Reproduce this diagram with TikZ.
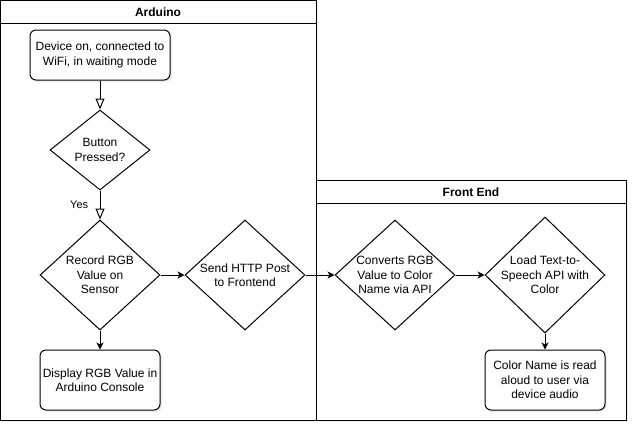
\documentclass[tikz,border=0pt]{standalone}
\usepackage{fontspec}
\setmainfont{Liberation Sans}
\usetikzlibrary{shapes.geometric,arrows.meta,shadows}

\begin{document}
\begin{tikzpicture}[x=1pt,y=-1pt,font=\fontsize{12}{14.5}\selectfont,
		lane/.style={draw,line width=1pt,fill=white,drop shadow={opacity=0.12,shadow xshift=2pt,shadow yshift=-2pt}},
		lanetitle/.style={font=\fontsize{12}{14.5}\selectfont\bfseries},
		stepbox/.style={draw,line width=1pt,fill=white,rounded corners=6pt,align=center,inner sep=0pt,
			drop shadow={opacity=0.12,shadow xshift=2pt,shadow yshift=-2pt}},
		decision/.style={draw,diamond,line width=1pt,fill=white,inner sep=0pt,minimum width=120pt,minimum height=110pt},
		every label/.append style={align=center},
		flow/.style={line width=1pt,-{Stealth[length=7pt,width=7pt,inset=2pt]}},
		openflow/.style={line width=1pt,-{Triangle[length=11pt,width=9pt,fill=white]}}]
			\useasboundingbox (0,0) rectangle (637,432);
			% swimlanes
			\draw [lane] (0.5,0.5) rectangle (316,420);
			\draw (0.5,23) -- (316,23);
			\node [lanetitle] (ard) at (158,12) {Arduino};
			\draw [lane] (316,180) rectangle (626,420);
			\draw (316,203) -- (626,203);
			\node [lanetitle] (fe) at (471,192) {Front End};
			% arduino side
			\node [stepbox,minimum width=140pt,minimum height=50pt] (dev) at (100,55) {Device on, connected to\\WiFi, in waiting mode};
			\node [decision,minimum width=100pt,minimum height=80pt,label={center:Button\\Pressed?}] (btn) at (100,150) {};
			\node [decision,label={center:Record RGB\\Value on\\Sensor}] (rec) at (100,275) {};
			\node [decision,label={center:Send HTTP Post\\to Frontend}] (send) at (245,275) {};
			\node [stepbox,minimum width=120pt,minimum height=60pt] (disp) at (100,380) {Display RGB Value in\\Arduino Console};
			% front end side
			\node [decision,label={center:Converts RGB\\Value to Color\\Name via API}] (conv) at (395,275) {};
			\node [decision,minimum height=116pt,label={center:Load Text-to-\\Speech API with\\Color}] (load) at (545,275) {};
			\node [stepbox,minimum width=120pt,minimum height=60pt] (col) at (545,380) {Color Name is read\\aloud to user via\\device audio};
			% connectors
			\draw [openflow] (dev) -- (btn);
			\draw [openflow] (btn) -- node [left=8pt,font=\fontsize{11}{13}\selectfont] {Yes} (rec);
			\draw [flow] (rec) -- (send);
			\draw [flow] (rec) -- (disp);
			\draw [flow] (send) -- (conv);
			\draw [flow] (conv) -- (load);
			\draw [flow] (load) -- (col);
		\end{tikzpicture}
\end{document}
